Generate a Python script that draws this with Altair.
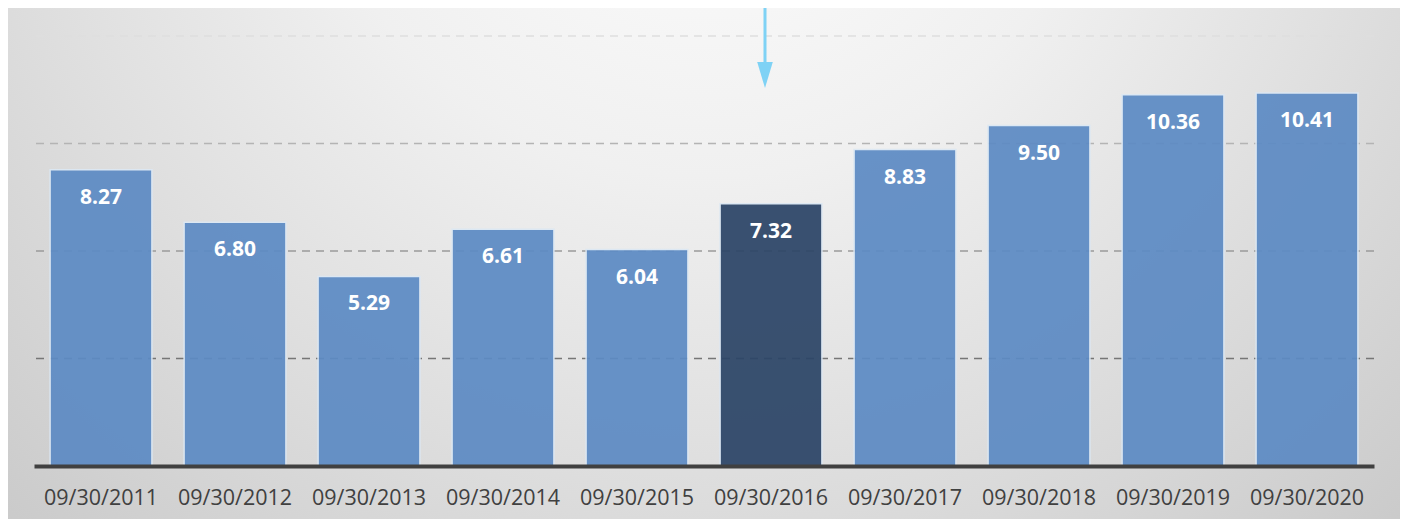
import altair as alt
import pandas as pd

dates = ["09/30/2011", "09/30/2012", "09/30/2013", "09/30/2014", "09/30/2015",
         "09/30/2016", "09/30/2017", "09/30/2018", "09/30/2019", "09/30/2020"]
values = [8.27, 6.80, 5.29, 6.61, 6.04, 7.32, 8.83, 9.50, 10.36, 10.41]
highlight = [d == "09/30/2016" for d in dates]

grid_vals = [3, 6, 9, 12]
grid_colors = ["#767676", "#9a9a9a", "#b4b4b4", "#dedede"]

df = pd.DataFrame({"date": dates, "value": values, "hl": highlight,
                   "label": [f"{v:.2f}" for v in values]})
gdf = pd.DataFrame({"v": grid_vals, "c": grid_colors})
adf = pd.DataFrame({"date": ["09/30/2016"]})
bgdf = pd.DataFrame({"k": [0]})

W, H = 1340, 430
PL, PT = 26, 28

xscale = alt.Scale(domain=dates, paddingInner=0.24, paddingOuter=0.12)
yscale = alt.Scale(domain=[0, 12], nice=False)

bg = alt.Chart(bgdf).mark_rect(
    fill=alt.RadialGradient(
        gradient="radial",
        x1=0.5, y1=0.15, r1=0.0,
        x2=0.5, y2=0.15, r2=0.9,
        stops=[alt.GradientStop(offset=0, color="#ffffff"),
               alt.GradientStop(offset=0.32, color="#f0f0f0"),
               alt.GradientStop(offset=1, color="#bcbcbc")]
    ),
    stroke="#e6e6e6", strokeWidth=1
).encode(
    x=alt.value(-31), x2=alt.value(1371),
    y=alt.value(-31), y2=alt.value(486)
)

grid = alt.Chart(gdf).mark_rule(strokeDash=[8, 6], strokeWidth=1.6).encode(
    y=alt.Y("v:Q", scale=yscale, axis=None),
    color=alt.Color("c:N", scale=None),
)

bars = alt.Chart(df).mark_bar(
    stroke="#dce8f4", strokeWidth=1.5, opacity=0.93
).encode(
    x=alt.X("date:N", scale=xscale, sort=dates, title=None,
            axis=alt.Axis(labelAngle=0, labelFontSize=21.5, labelColor="#404040",
                          labelFont="Open Sans", labelPadding=21, ticks=False,
                          domainColor="#404040", domainWidth=4, zindex=1)),
    y=alt.Y("value:Q", scale=yscale, axis=None),
    color=alt.condition(alt.datum.hl, alt.value("#2c4567"), alt.value("#5d8bc4")),
)

labels = alt.Chart(df).mark_text(
    color="white", fontWeight="bold", fontSize=21, font="Open Sans",
    baseline="middle", dy=28
).encode(
    x=alt.X("date:N", scale=xscale, sort=dates),
    y=alt.Y("value:Q", scale=yscale),
    text="label:N",
)

arrow_line = alt.Chart(adf).mark_rule(color="#7fd2f5", strokeWidth=3, xOffset=-6).encode(
    x=alt.X("date:N", scale=xscale, sort=dates),
    y=alt.value(-36), y2=alt.value(30),
)

arrow_head = alt.Chart(adf).mark_point(
    shape="M-0.6,-1L0.6,-1L0,1Z", size=676, filled=True, opacity=1,
    color="#7fd2f5", xOffset=-6
).encode(
    x=alt.X("date:N", scale=xscale, sort=dates),
    y=alt.value(39),
)

chart = alt.layer(bg, grid, bars, labels, arrow_line, arrow_head).properties(
    width=W, height=H,
    autosize=alt.AutoSizeParams(type="none"),
    padding={"left": PL, "top": PT, "right": 26, "bottom": 53},
).configure_view(stroke=None).configure(background="white")

chart.save("out.html", embed_options={"renderer": "svg", "actions": False})
